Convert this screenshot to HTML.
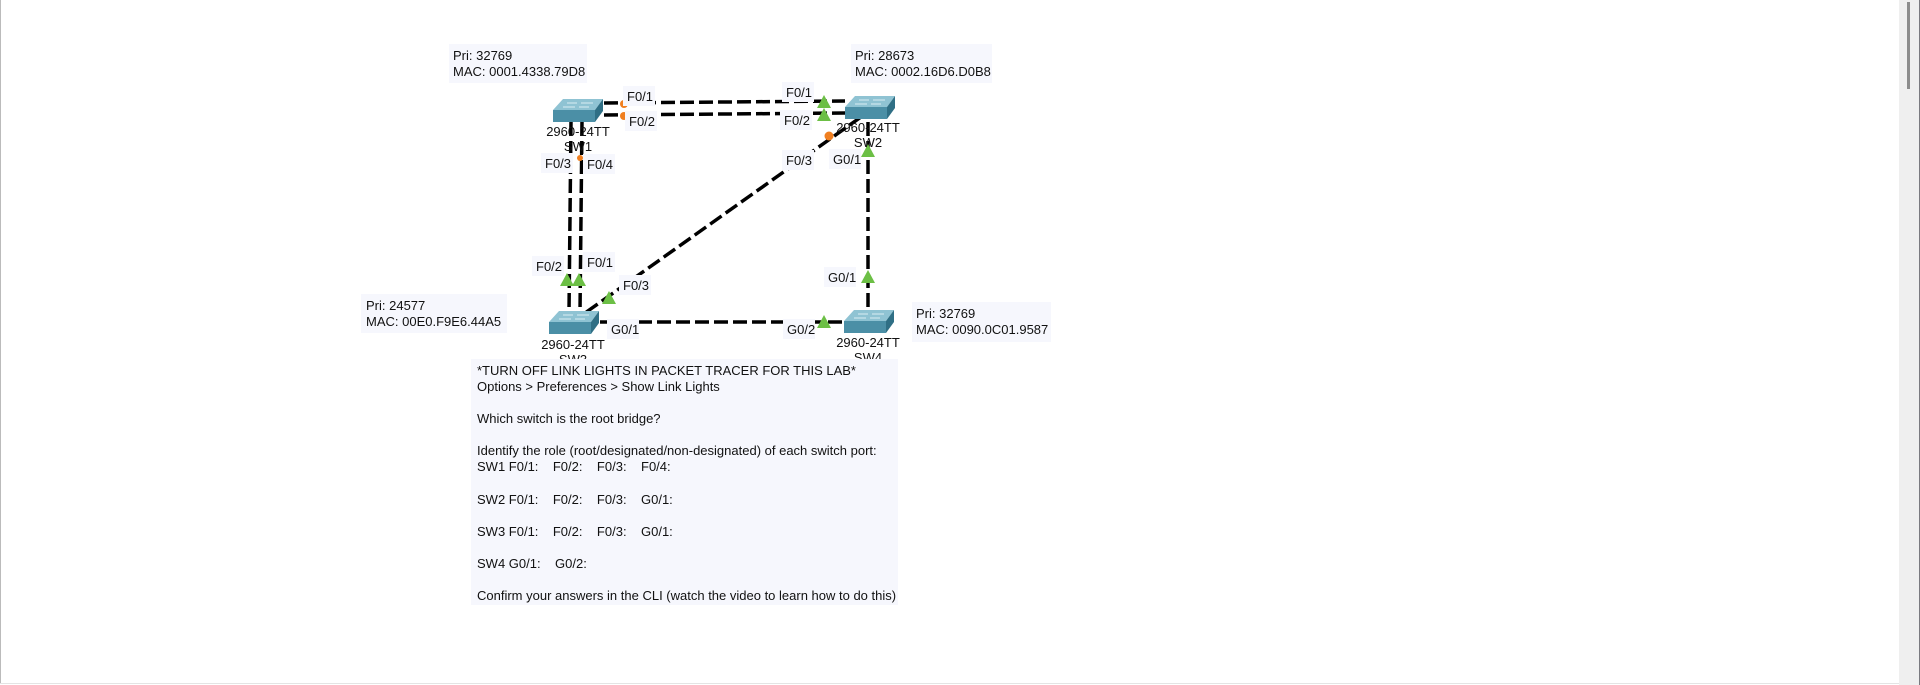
<!DOCTYPE html>
<html><head><meta charset="utf-8"><style>
html,body{margin:0;padding:0;width:1920px;height:685px;overflow:hidden;background:#fff}
svg{position:absolute;left:0;top:0}
text{font-family:"Liberation Sans",Arial,sans-serif;font-size:13px;fill:#111}
</style></head><body>
<svg width="1920" height="685" viewBox="0 0 1920 685">
<defs>
<g id="sw">
<polygon points="10,0 50,0 42,11 0,11" fill="#8fc3d3"/>
<polygon points="0,11 42,11 42,23 0,23" fill="#4b8fa6"/>
<polygon points="42,11 50,0 50,12 42,23" fill="#2f6f85"/>
<line x1="14" y1="4" x2="24" y2="4" stroke="#d8edf3" stroke-width="1"/>
<line x1="28" y1="4" x2="40" y2="4" stroke="#d8edf3" stroke-width="1"/>
<line x1="10" y1="8" x2="22" y2="8" stroke="#d8edf3" stroke-width="1"/>
<line x1="26" y1="8" x2="36" y2="8" stroke="#d8edf3" stroke-width="1"/>
</g>
<polygon id="tri" points="0,-7 7,6 -7,6" fill="#6cbf45"/>
</defs>
<line x1="0.5" y1="0" x2="0.5" y2="683" stroke="#bbb"/>
<line x1="0" y1="683.5" x2="1900" y2="683.5" stroke="#e4e4e4"/>
<rect x="1899" y="0" width="21" height="685" fill="#efefef"/>
<rect x="1907" y="2" width="3" height="87" fill="#8c8c8c"/>
<line x1="1919.5" y1="0" x2="1919.5" y2="685" stroke="#7a7a80"/>

<!-- info boxes -->
<rect x="449" y="44" width="138" height="39" fill="#f6f7fd"/>
<text x="453" y="60">Pri: 32769</text><text x="453" y="76">MAC: 0001.4338.79D8</text>
<rect x="851" y="44" width="141" height="39" fill="#f6f7fd"/>
<text x="855" y="60">Pri: 28673</text><text x="855" y="76">MAC: 0002.16D6.D0B8</text>
<rect x="361" y="294" width="146" height="39" fill="#f6f7fd"/>
<text x="366" y="310">Pri: 24577</text><text x="366" y="326">MAC: 00E0.F9E6.44A5</text>
<rect x="912" y="302" width="139" height="40" fill="#f6f7fd"/>
<text x="916" y="318">Pri: 32769</text><text x="916" y="334">MAC: 0090.0C01.9587</text>

<!-- links -->
<g stroke="#000" stroke-width="3.5" stroke-dasharray="14 5" fill="none">
<line x1="604" y1="103" x2="845" y2="101"/>
<line x1="604" y1="115" x2="845" y2="113"/>
<line x1="571" y1="122" x2="569" y2="312"/>
<line x1="582" y1="122" x2="580" y2="312"/>
<line x1="861" y1="117" x2="585" y2="313"/>
<line x1="868" y1="122" x2="868" y2="311"/>
<line x1="600" y1="322" x2="844" y2="322"/>
</g>
<circle cx="624" cy="104" r="4" fill="#f07f20"/><circle cx="624" cy="116" r="4" fill="#f07f20"/>
<circle cx="580" cy="158" r="3" fill="#f07f20"/>

<!-- port label backgrounds -->
<g fill="#f6f7fd">
<rect x="623" y="86" width="32" height="20"/><rect x="625" y="111" width="32" height="20"/>
<rect x="782" y="82" width="32" height="20"/><rect x="780" y="110" width="32" height="20"/>
<rect x="541" y="153" width="32" height="20"/><rect x="583" y="154" width="32" height="20"/>
<rect x="782" y="150" width="32" height="20"/><rect x="829" y="149" width="32" height="20"/>
<rect x="532" y="256" width="32" height="20"/><rect x="583" y="252" width="32" height="20"/>
<rect x="619" y="275" width="32" height="20"/><rect x="824" y="267" width="32" height="20"/>
<rect x="607" y="319" width="32" height="20"/><rect x="783" y="319" width="32" height="20"/>
</g>

<!-- port labels -->
<text x="627" y="101">F0/1</text><text x="629" y="126">F0/2</text>
<text x="786" y="97">F0/1</text><text x="784" y="125">F0/2</text>
<text x="545" y="168">F0/3</text><text x="587" y="169">F0/4</text>
<text x="786" y="165">F0/3</text><text x="833" y="164">G0/1</text>
<text x="536" y="271">F0/2</text><text x="587" y="267">F0/1</text>
<text x="623" y="290">F0/3</text><text x="828" y="282">G0/1</text>
<text x="611" y="334">G0/1</text><text x="787" y="334">G0/2</text>

<!-- indicators -->
<circle cx="829" cy="136" r="4.5" fill="#f07f20"/>
<use href="#tri" x="824" y="102"/><use href="#tri" x="824" y="115"/>
<use href="#tri" x="868" y="151"/><use href="#tri" x="567" y="280"/><use href="#tri" x="579" y="280"/>
<use href="#tri" x="609" y="298"/><use href="#tri" x="868" y="277"/><use href="#tri" x="824" y="322"/>

<!-- switches -->
<use href="#sw" x="553" y="99"/><use href="#sw" x="845" y="96"/>
<use href="#sw" x="549" y="311"/><use href="#sw" x="844" y="310"/>
<g text-anchor="middle">
<text x="578" y="136">2960-24TT</text><text x="578" y="151">SW1</text>
<text x="868" y="132">2960-24TT</text><text x="868" y="147">SW2</text>
<text x="573" y="349">2960-24TT</text><text x="573" y="364">SW3</text>
<text x="868" y="347">2960-24TT</text><text x="868" y="362">SW4</text>
</g>

<!-- note -->
<rect x="471" y="359" width="427" height="246" fill="#f6f7fd"/>
<g>
<text x="477" y="375">*TURN OFF LINK LIGHTS IN PACKET TRACER FOR THIS LAB*</text>
<text x="477" y="391">Options &gt; Preferences &gt; Show Link Lights</text>
<text x="477" y="423">Which switch is the root bridge?</text>
<text x="477" y="455">Identify the role (root/designated/non-designated) of each switch port:</text>
<text x="477" y="471" xml:space="preserve">SW1 F0/1:    F0/2:    F0/3:    F0/4:</text>
<text x="477" y="504" xml:space="preserve">SW2 F0/1:    F0/2:    F0/3:    G0/1:</text>
<text x="477" y="536" xml:space="preserve">SW3 F0/1:    F0/2:    F0/3:    G0/1:</text>
<text x="477" y="568" xml:space="preserve">SW4 G0/1:    G0/2:</text>
<text x="477" y="600">Confirm your answers in the CLI (watch the video to learn how to do this)</text>
</g>
</svg>
</body></html>
